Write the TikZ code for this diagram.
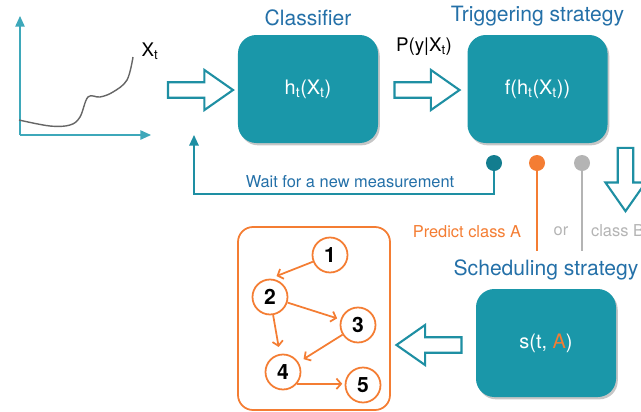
\documentclass[tikz,border=0pt]{standalone}
\usepackage{fontspec}
\setmainfont{TeX Gyre Heros}
\usetikzlibrary{positioning,arrows.meta,shapes.arrows,shadows}
\definecolor{tealbox}{HTML}{1A97A9}
\definecolor{tealline}{HTML}{1E8FA3}
\definecolor{tealdot}{HTML}{137D8F}
\definecolor{labelblue}{HTML}{2470A8}
\definecolor{orangeA}{HTML}{F47D33}
\definecolor{grayB}{HTML}{B4B4B4}
\definecolor{axisteal}{HTML}{3EA8BA}
\tikzset{
	block base/.style={rectangle, rounded corners=0.55cm, fill=tealbox, text=white, minimum width=4.2cm, minimum height=3.24cm, drop shadow={opacity=0.45, shadow xshift=1.5pt, shadow yshift=-2pt}, font=\fontsize{17}{20}\selectfont},
	block label/.style={text=labelblue, font=\fontsize{18}{21}\selectfont},
	hollow arrow/.style={single arrow, draw=tealline, line width=1.8pt, fill=white, inner xsep=0pt, inner ysep=0.2cm, single arrow head extend=0.37cm, single arrow tip angle=70, minimum height=1.95cm},
	state dot/.style={circle, inner sep=0pt, minimum size=0.48cm},
	task/.style={circle, draw=orangeA, line width=1.5pt, fill=white, minimum size=1.05cm, inner sep=0pt, font=\bfseries\fontsize{18}{20}\selectfont},
	task edge/.style={draw=orangeA, line width=1.5pt, -{Straight Barb[length=4pt,width=9pt]}},
	small text/.style={font=\fontsize{14}{16}\selectfont},
}

\begin{document}
\begin{tikzpicture}[x=0.03cm,y=-0.03cm]
	\useasboundingbox (0,0) rectangle (641,411);

	% Measurement plot
	\coordinate (origin) at (20,135);
	\coordinate (ytip) at (20,16);
	\coordinate (xtip) at (151,135);
	\draw[axisteal, line width=1pt, -{Triangle[length=9pt,width=8pt]}] (origin) -- (ytip);
	\draw[axisteal, line width=1pt, -{Triangle[length=9pt,width=8pt]}] (origin) -- (xtip);
	\draw[gray!80!black, line width=1.2pt] plot[smooth, tension=0.6] coordinates {(19,120) (50,126) (70,125) (80,117) (88,97) (100,97) (113,92) (127,80) (133,57)};
	\node[font=\fontsize{16}{18}\selectfont] (xt) at (150,51) {X\textsubscript{t}};

	% Blocks
	\node [block base] (clf) at (308,89) {h\textsubscript{t}(X\textsubscript{t})};
	\node [block base] (trig) at (537.5,89) {f(h\textsubscript{t}(X\textsubscript{t}))};
	\node [block base] (sched) at (546,343) {s(t, \textcolor{orangeA}{A})};
	\node [block label,above=0.15cm of clf] (clflabel) {Classifier};
	\node [block label,above=0.15cm of trig] (triglabel) {Triggering strategy};
	\node [block label,above=0.15cm of sched] (schedlabel) {Scheduling strategy};
	\node [font=\fontsize{16}{18}\selectfont] (proba) at (424,47) {P(y|X\textsubscript{t})};

	% Hollow arrows
	\node [hollow arrow] (in) at (195,90) {};
	\node [hollow arrow] (out) at (421.5,90) {};
	\node [hollow arrow,rotate=270,minimum height=1.9cm] (down) at (625.5,174) {};
	\node [hollow arrow,rotate=180] (back) at (434.5,345) {};

	% Decision dots
	\node [state dot,fill=tealdot] (dwait) at (494,163) {};
	\node [state dot,fill=orangeA] (dA) at (537,163) {};
	\node [state dot,fill=grayB] (dB) at (582,163) {};
	\coordinate (waitcorner) at (194,194);
	\coordinate (waitend) at (194,135);
	\coordinate (Aend) at (537,251);
	\coordinate (Bend) at (582,251);
	\draw[tealline, line width=1.3pt, -{Triangle[length=9pt,width=8pt]}] (dwait) |- (waitcorner) -- (waitend);
	\draw[orangeA, line width=1.3pt] (dA) -- (Aend);
	\draw[grayB, line width=1.3pt] (dB) -- (Bend);
	\node [small text,text=labelblue] (waitlabel) at (350,182) {Wait for a new measurement};
	\node [small text,text=orangeA] (predA) at (467,232) {Predict class A};
	\node [small text,text=grayB] (orlabel) at (561,231) {or};
	\node [small text,text=grayB,anchor=west] (predB) at (587,231) {class B};

	% Schedule graph
	\node [draw=orangeA, line width=1.5pt, rounded corners=0.45cm, minimum width=4.56cm, minimum height=5.49cm] (sgraph) at (314,318.5) {};
	\node [task] (n1) at (330,255) {1};
	\node [task] (n2) at (270,297) {2};
	\node [task] (n3) at (358,325) {3};
	\node [task] (n4) at (283,372) {4};
	\node [task] (n5) at (363,385) {5};
	\draw[task edge, shorten >=6pt] (n1) -- (n2.north);
	\draw[task edge, shorten >=3pt] (n2) -- (n3);
	\draw[task edge, shorten >=6pt] (n2) -- (n4);
	\draw[task edge, shorten >=5pt] (n3) -- (n4);
	\draw[task edge, shorten >=2pt] (n4.-40) -- (n4.-40 -| n5.west);

\end{tikzpicture}
\end{document}
